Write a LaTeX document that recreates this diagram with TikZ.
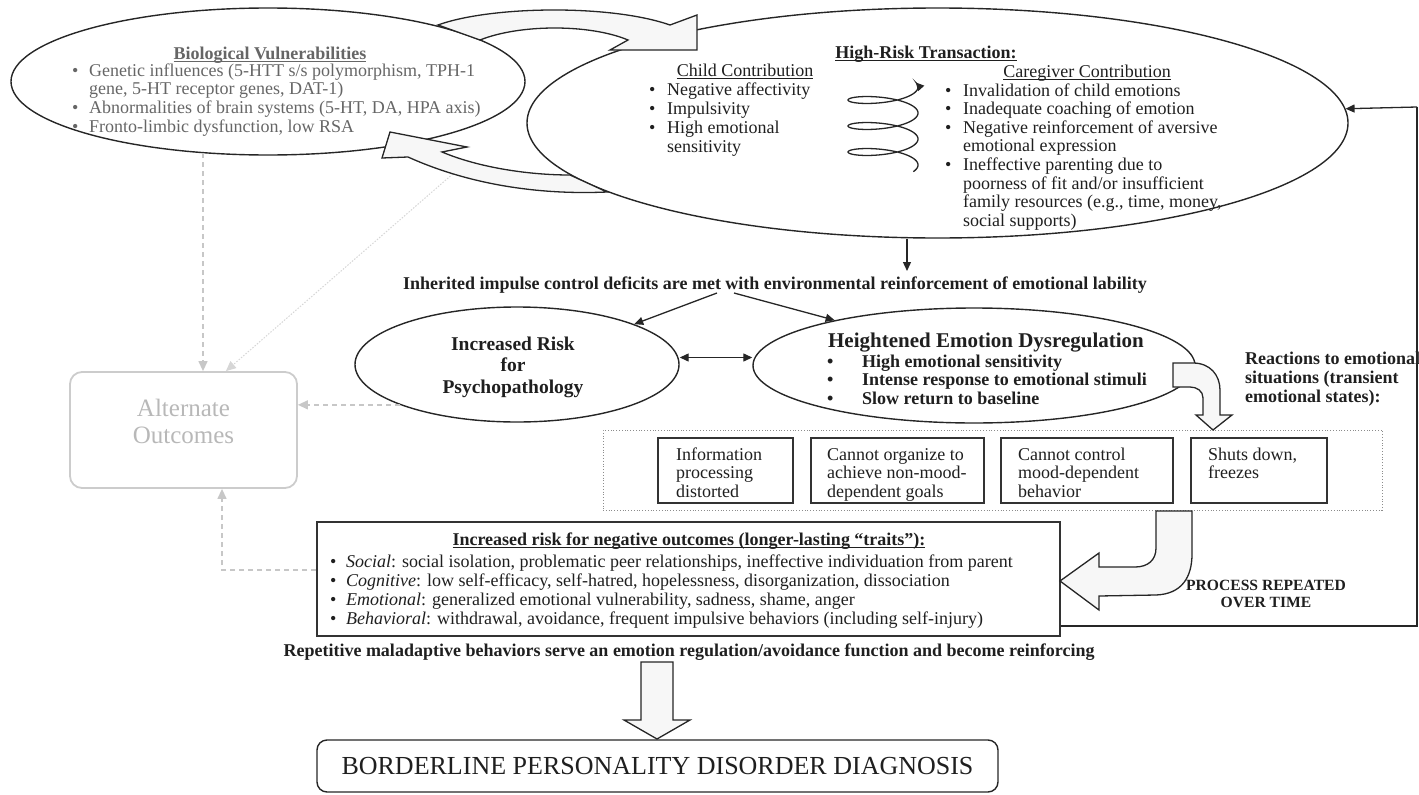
\documentclass[tikz,border=0pt]{standalone}
\usepackage{fontspec}
\setmainfont{Liberation Serif}
\usetikzlibrary{shapes.geometric, arrows.meta}
\newcommand\ulx[1]{\vtop{\hbox{\smash{#1}}\kern2pt\hrule height 1pt}}
\begin{document}
\begin{tikzpicture}[x=1pt, y=-1pt,
  ell/.style={ellipse, draw=black!85, line width=1.4pt, inner sep=0pt},
  bx/.style={rectangle, draw=black!80, line width=1.8pt, inner sep=0pt},
  blk/.style={draw=black!85, line width=1.3pt, fill=black!3, line join=miter},
  arr/.style={draw=black!85, line width=1.3pt, -{Triangle[length=9pt,width=8pt]}},
  dsh/.style={draw=black!22, line width=1.3pt, dash pattern=on 5pt off 4pt, -{Triangle[length=10pt,width=9pt]}},
  tl/.style={inner sep=0pt, anchor=base west, text=black!88},
  tc/.style={inner sep=0pt, anchor=base, text=black!88},
  f18/.style={font=\fontsize{18}{19}\selectfont},
  b18/.style={font=\bfseries\fontsize{18}{19}\selectfont}
]
\useasboundingbox (0,0) rectangle (1419,795);

% ---------- main shapes ----------
\node[ell, minimum width=514pt, minimum height=147pt] (bio) at (268,81.5) {};
\node[ell, minimum width=821pt, minimum height=230pt] (hr) at (937.5,123) {};
\node[ell, minimum width=324pt, minimum height=115pt] (risk) at (517,364.5) {};
\node[ell, minimum width=442pt, minimum height=115pt] (hed) at (974,365.5) {};

\node[draw=black!20, line width=1.8pt, rounded corners=12pt, minimum width=227pt, minimum height=116pt, inner sep=0pt] (alt) at (183.5,430) {};
\node[inner sep=0pt, font=\fontsize{25}{27}\selectfont, text=black!28, align=center] (altT) at (183.5,421) {Alternate\\Outcomes};

\node[draw=black!45, dotted, line width=0.8pt, minimum width=779pt, minimum height=80pt, inner sep=0pt] (dot) at (992.5,470) {};
\node[bx, minimum width=135pt, minimum height=65pt] (b1) at (725.5,470.5) {};
\node[bx, minimum width=173pt, minimum height=65pt] (b2) at (897.5,470.5) {};
\node[bx, minimum width=172pt, minimum height=65pt] (b3) at (1087,470.5) {};
\node[bx, minimum width=136pt, minimum height=65pt] (b4) at (1259,470.5) {};

\node[bx, minimum width=743pt, minimum height=114pt] (neg) at (688.5,579) {};
\node[draw=black!85, line width=1.4pt, rounded corners=10pt, minimum width=681pt, minimum height=52pt, inner sep=0pt, font=\fontsize{26}{28}\selectfont, text=black!88] (bpd) at (657.5,766) {BORDERLINE PERSONALITY DISORDER DIAGNOSIS};

% ---------- texts ----------
\node[tc, font=\bfseries\fontsize{18}{19}\selectfont, text=black!60] (bioT) at (270,59) {\ulx{Biological Vulnerabilities}};
\node[tl, font=\fontsize{18}{18.7}\selectfont, text=black!60] (bioL) at (72,76) {\begin{tabular}[t]{@{}l@{\hspace{10.7pt}}l@{}}\textbullet & Genetic influences (5-HTT s/s polymorphism, TPH-1\\ & gene, 5-HT receptor genes, DAT-1)\\ \textbullet & Abnormalities of brain systems (5-HT, DA, HPA axis)\\ \textbullet & Fronto-limbic dysfunction, low RSA\end{tabular}};

\node[tc, b18] (hrT) at (926,58) {\ulx{High-Risk Transaction:}};
\node[tc, f18] (childT) at (745,76) {\ulx{Child Contribution}};
\node[tl, f18] (childL) at (649,95) {\begin{tabular}[t]{@{}l@{\hspace{11.7pt}}l@{}}\textbullet & Negative affectivity\\ \textbullet & Impulsivity\\ \textbullet & High emotional\\ & sensitivity\end{tabular}};
\node[tc, f18] (careT) at (1087,77) {\ulx{Caregiver Contribution}};
\node[tl, font=\fontsize{18}{18.6}\selectfont] (careL) at (945,96) {\begin{tabular}[t]{@{}l@{\hspace{11.7pt}}l@{}}\textbullet & Invalidation of child emotions\\ \textbullet & Inadequate coaching of emotion\\ \textbullet & Negative reinforcement of aversive\\ & emotional expression\\ \textbullet & Ineffective parenting due to\\ & poorness of fit and/or insufficient\\ & family resources (e.g., time, money,\\ & social supports)\end{tabular}};

\node[tl, b18] (inh) at (403,289) {Inherited impulse control deficits are met with environmental reinforcement of emotional lability};

\node[tc, font=\bfseries\fontsize{19.5}{21.5}\selectfont] (riskT) at (513,350) {\begin{tabular}[t]{@{}c@{}}Increased Risk\\for\\Psychopathology\end{tabular}};

\node[tc, font=\bfseries\fontsize{21}{22}\selectfont] (hedT) at (986,347) {Heightened Emotion Dysregulation};
\node[tl, font=\bfseries\fontsize{18}{18.7}\selectfont] (hedL) at (827,367) {\begin{tabular}[t]{@{}l@{\hspace{28.7pt}}l@{}}\textbullet & High emotional sensitivity\\ \textbullet & Intense response to emotional stimuli\\ \textbullet & Slow return to baseline\end{tabular}};

\node[tl, b18] (react) at (1245,364) {\begin{tabular}[t]{@{}l@{}}Reactions to emotional\\situations (transient\\emotional states):\end{tabular}};

\node[tl, font=\fontsize{18}{18.5}\selectfont] (b1t) at (676,460) {\begin{tabular}[t]{@{}l@{}}Information\\processing\\distorted\end{tabular}};
\node[tl, font=\fontsize{18}{18.5}\selectfont] (b2t) at (827,460) {\begin{tabular}[t]{@{}l@{}}Cannot organize to\\achieve non-mood-\\dependent goals\end{tabular}};
\node[tl, font=\fontsize{18}{18.5}\selectfont] (b3t) at (1018,460) {\begin{tabular}[t]{@{}l@{}}Cannot control\\mood-dependent\\behavior\end{tabular}};
\node[tl, font=\fontsize{18}{18.5}\selectfont] (b4t) at (1208,460) {\begin{tabular}[t]{@{}l@{}}Shuts down,\\freezes\end{tabular}};

\node[tc, b18] (negT) at (689,545) {\ulx{Increased risk for negative outcomes (longer-lasting “traits”):}};
\node[tl, f18] (negL) at (330,567) {\begin{tabular}[t]{@{}l@{\hspace{9.7pt}}l@{}}\textbullet & \textit{Social}: social isolation, problematic peer relationships, ineffective individuation from parent\\ \textbullet & \textit{Cognitive}: low self-efficacy, self-hatred, hopelessness, disorganization, dissociation\\ \textbullet & \textit{Emotional}: generalized emotional vulnerability, sadness, shame, anger\\ \textbullet & \textit{Behavioral}: withdrawal, avoidance, frequent impulsive behaviors (including self-injury)\end{tabular}};

\node[tc, font=\bfseries\fontsize{15.6}{17}\selectfont] (proc) at (1266,590) {\begin{tabular}[t]{@{}c@{}}PROCESS REPEATED\\OVER TIME\end{tabular}};

\node[tc, b18] (rep) at (689,656) {Repetitive maladaptive behaviors serve an emotion regulation/avoidance function and become reinforcing};

% ---------- connectors ----------
\coordinate (inhTop) at (907,271);
\coordinate (inhA) at (717,293);
\coordinate (inhB) at (734,293);
\draw[arr] ([xshift=-30.5pt]hr.south) -- (inhTop);
\draw[arr] (inhA) -- (risk.19);
\draw[arr] (inhB) -- (hed.162);
\draw[draw=black!85, line width=1.3pt, {Triangle[length=9pt,width=8pt]}-{Triangle[length=9pt,width=8pt]}] ([yshift=7pt]risk.east) -- ([yshift=7pt]risk.east -| hed.west);

\coordinate (fbA) at (1417,626);
\coordinate (fbB) at (1417,107);
\draw[draw=black!85, line width=1.3pt] ([yshift=-47pt]neg.east) -- (fbA) -- (fbB);
\draw[arr] (fbB) -- (hr.2.25);

\coordinate (bioB) at (203,153);
\draw[dsh] (bioB) -- (bioB |- alt.north);
\coordinate (lowA) at (455,172);
\draw[draw=black!16, line width=1pt, dash pattern=on 1.5pt off 1.5pt, -{Triangle[length=10pt,width=9pt]}] (lowA) -- ([xshift=-72pt]alt.north east);
\draw[dsh] (risk.199.4) -- (risk.199.4 -| alt.east);
\coordinate (negC) at (222,570);
\draw[dsh] ([yshift=9pt]neg.west) -- (negC) -- (negC |- alt.south);

% ---------- block arrows ----------
\draw[blk] (438,25) .. controls (490,6) and (610,4) .. (670,25) -- (697,15) -- (697,50) -- (610,50) -- (628,40) .. controls (590,24) and (520,24) .. (480,40) -- cycle;
\draw[blk] (442,152) -- (467,147) -- (390,132) -- (382,158) -- (408,157) .. controls (470,185) and (540,195) .. (607,192) -- (570,175) .. controls (530,175) and (480,168) .. (442,152) -- cycle;
\draw[blk] (1173,363) -- (1193,363) .. controls (1210,363) and (1220,375) .. (1220,390) -- (1220,415) -- (1232,415) -- (1213,430) -- (1196,415) -- (1203,415) -- (1203,398) .. controls (1203,391) and (1197,387) .. (1190,387) -- (1173,387) -- cycle;
\draw[blk] (1156,511) -- (1192,511) -- (1192,554) .. controls (1192,577) and (1182,594) .. (1156,595) -- (1099,596) -- (1099,610) -- (1060,581) -- (1099,553) -- (1099,567) -- (1135,567) .. controls (1148,567) and (1156,560) .. (1156,548) -- cycle;
\draw[blk] (641,662) -- (673,662) -- (673,720) -- (690,720) -- (657,739) -- (624,720) -- (641,720) -- cycle;

% ---------- spiral ----------
\draw[draw=black!85, line width=1.3pt, -{Triangle[length=8pt,width=8pt]}] plot[domain=-30:1100, samples=300, smooth] ({883+35*cos(\x)}, {165-\x/13.846-9*sin(\x)});
\end{tikzpicture}
\end{document}
